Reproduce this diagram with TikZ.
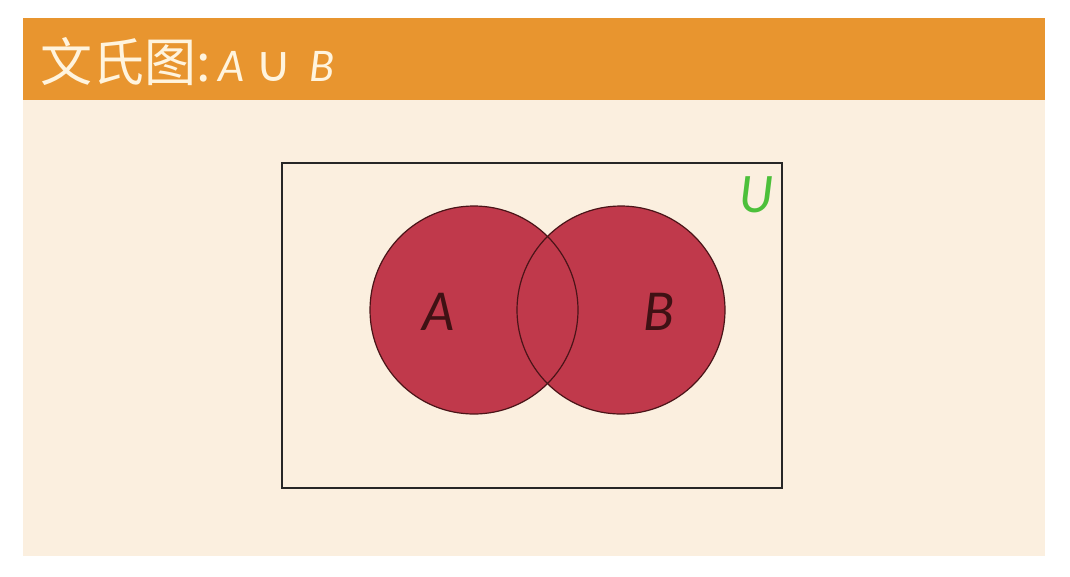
\documentclass[tikz,border=0pt]{standalone}
\usepackage{fontspec}
\setsansfont{Lato}
\newfontfamily\cjk{Noto Sans CJK SC}
\newfontfamily\symb{DejaVu Sans}
\definecolor{banner}{HTML}{E8952F}
\definecolor{panel}{HTML}{FBEFDF}
\definecolor{titletext}{HTML}{FFF4DE}
\definecolor{setfill}{HTML}{C0394B}
\definecolor{setline}{HTML}{4A1418}
\definecolor{univ}{HTML}{4CC03A}
\tikzset{
  setlabel/.style={text=setline!85!black, font=\fontsize{52}{52}\selectfont\sffamily\itshape}
}

\begin{document}
\begin{tikzpicture}[x=1pt,y=-1pt]
    \useasboundingbox (0,0) rectangle (1070,576);
    \fill[panel] (23,100) rectangle (1045,556);
    \fill[banner] (23,18) rectangle (1045,100);
    \node [anchor=west, text=titletext, inner sep=0pt] (title) at (40,62)
      {\fontsize{52}{52}\selectfont\cjk 文氏图:\hspace{8pt}\fontsize{42}{42}\selectfont\sffamily\itshape A\hspace{10pt}{\upshape\symb\fontsize{50}{50}\selectfont ∪}\hspace{18pt}B};
    % universe and sets
    \draw [line width=1.3pt, draw=black!85] (282,163) rectangle (782,488);
    \foreach \x in {474,621}
    \fill [setfill] (\x,310) circle [radius=104];
    \foreach \x in {474,621}
    \draw [setline, line width=1.2pt] (\x,310) circle [radius=104];
    \node [setlabel] (A) at (439,312) {A};
    \node [setlabel] (B) at (659,312) {B};
    \node [text=univ, font=\fontsize{50}{50}\selectfont\sffamily\itshape] (U) at (757,195) {U};
  \end{tikzpicture}
\end{document}
